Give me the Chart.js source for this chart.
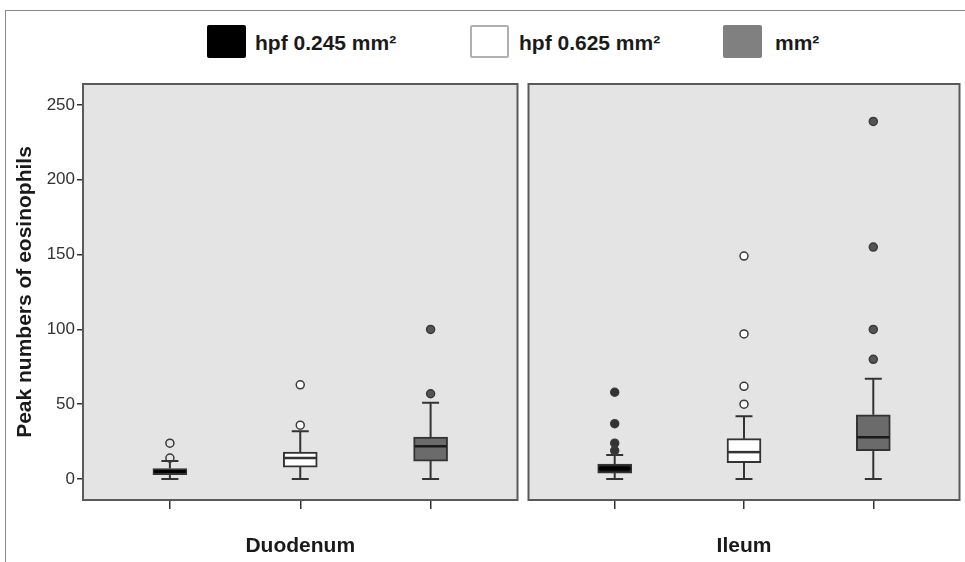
<!DOCTYPE html>
<html lang="en">
<head>
  <meta charset="UTF-8">
  <meta name="viewport" content="width=device-width, initial-scale=1.0">
  <title>Peak numbers of eosinophils</title>
  <script src="https://cdn.jsdelivr.net/npm/chart.js"></script>
  <style>
    body {
      margin: 0;
      background: #fff;
      font-family: "Liberation Sans", Arial, sans-serif;
    }
    #wrap {
      position: relative;
      width: 965px;
      height: 562px;
      overflow: hidden;
    }
    .frame-top {
      position: absolute;
      left: 5px;
      top: 10px;
      width: 960px;
      border-top: 1.5px solid #8a8a8a;
    }
    .frame-left {
      position: absolute;
      left: 5px;
      top: 10px;
      height: 552px;
      border-left: 1.5px solid #8a8a8a;
    }
    .key {
      position: absolute;
      top: 25px;
      width: 39px;
      height: 33px;
      box-sizing: border-box;
      border-radius: 2px;
    }
    .key-label {
      position: absolute;
      top: 30px;
      font-size: 21px;
      font-weight: bold;
      line-height: 26px;
      color: #1a1a1a;
      white-space: nowrap;
    }
    canvas {
      position: absolute;
      top: 0;
    }
  </style>
</head>
<body>
  <div id="wrap">
    <div class="frame-top"></div>
    <div class="frame-left"></div>
    <div id="legend"></div>
    <canvas id="duodenum" width="523" height="562" style="left:0"></canvas>
    <canvas id="ileum" width="442" height="562" style="left:523px"></canvas>
  </div>

  <script>
    // groups (legend / box colours) and the two sites
    const groups = ['hpf 0.245 mm²', 'hpf 0.625 mm²', 'mm²'];
    const sites = ['Duodenum', 'Ileum'];
    const yTicks = [0, 50, 100, 150, 200, 250];

    // Duodenum box statistics, one value per group
    const duoMin = [0, 0, 0];
    const duoQ1 = [3, 8, 12];
    const duoMedian = [5, 14, 22];
    const duoQ3 = [7, 18, 28];
    const duoMax = [12, 32, 51];
    const duoOutliers = [[14, 24], [36, 63], [57, 100]];

    // Ileum box statistics
    const ileMin = [0, 0, 0];
    const ileQ1 = [4, 11, 19];
    const ileMedian = [7, 18, 28];
    const ileQ3 = [10, 27, 43];
    const ileMax = [16, 42, 67];
    const ileOutliers = [[19, 24, 37, 58], [50, 62, 97, 149], [80, 100, 155, 239]];

    // styles
    const boxFill = ['#0d0d0d', '#ffffff', '#6b6b6b'];
    const legendFill = ['#000000', '#ffffff', '#808080'];
    const medianColor = ['#000000', '#333333', '#1a1a1a'];
    const lineColor = '#333333';
    const panelBg = '#e4e4e4';

    Chart.defaults.font.family = '"Liberation Sans", Arial, sans-serif';
    Chart.defaults.animation = false;

    // html legend along the top
    const keyLeft = [207, 470, 723];
    const labelLeft = [255, 519, 775];
    const legend = document.getElementById('legend');
    groups.forEach((g, i) => {
      const key = document.createElement('div');
      key.className = 'key';
      key.style.left = keyLeft[i] + 'px';
      key.style.background = legendFill[i];
      if (i === 1) key.style.border = '2px solid #b0b0b0';
      legend.appendChild(key);
      const lab = document.createElement('div');
      lab.className = 'key-label';
      lab.style.left = labelLeft[i] + 'px';
      lab.textContent = g;
      legend.appendChild(lab);
    });

    // panel background, border, medians and whiskers
    const boxPlugin = {
      id: 'boxWhiskers',
      beforeDatasetsDraw(chart) {
        const a = chart.chartArea;
        const ctx = chart.ctx;
        ctx.save();
        ctx.fillStyle = panelBg;
        ctx.fillRect(a.left, a.top, a.right - a.left, a.bottom - a.top);
        ctx.restore();
      },
      afterDatasetDraw(chart, args) {
        if (args.meta.type !== 'bar') return;
        const ds = chart.data.datasets[args.index];
        const st = ds.stats;
        const xs = chart.scales.x;
        const ys = chart.scales.y;
        const ctx = chart.ctx;
        const half = 17;
        const cap = 8.5;
        ctx.save();
        ds.data.forEach((d, i) => {
          const x = xs.getPixelForValue(d.x);
          const yMin = ys.getPixelForValue(st.min[i]);
          const yQ1 = ys.getPixelForValue(st.q1[i]);
          const yQ3 = ys.getPixelForValue(st.q3[i]);
          const yMax = ys.getPixelForValue(st.max[i]);
          const yMed = ys.getPixelForValue(st.median[i]);
          ctx.strokeStyle = lineColor;
          ctx.lineWidth = 2;
          ctx.beginPath();
          ctx.moveTo(x, yQ3); ctx.lineTo(x, yMax);
          ctx.moveTo(x - cap, yMax); ctx.lineTo(x + cap, yMax);
          ctx.moveTo(x, yQ1); ctx.lineTo(x, yMin);
          ctx.moveTo(x - cap, yMin); ctx.lineTo(x + cap, yMin);
          ctx.stroke();
          ctx.strokeStyle = medianColor[i];
          ctx.lineWidth = 2.5;
          ctx.beginPath();
          ctx.moveTo(x - half + 1, yMed); ctx.lineTo(x + half - 1, yMed);
          ctx.stroke();
        });
        ctx.restore();
      },
      afterDraw(chart) {
        const a = chart.chartArea;
        const ctx = chart.ctx;
        ctx.save();
        ctx.strokeStyle = '#5a5a5a';
        ctx.lineWidth = 2;
        ctx.strokeRect(a.left, a.top, a.right - a.left, a.bottom - a.top);
        ctx.restore();
      }
    };

    function makePanel(canvasId, site, stats, outlierFill, showY) {
      const positions = groups.map((g, i) => i + 1);
      const boxes = groups.map((g, i) => ({ x: positions[i], y: [stats.q1[i], stats.q3[i]] }));
      const points = [];
      const fills = [];
      stats.outliers.forEach((list, i) => {
        list.forEach(v => {
          points.push({ x: positions[i], y: v });
          fills.push(outlierFill[i]);
        });
      });

      return new Chart(document.getElementById(canvasId), {
        type: 'bar',
        data: {
          datasets: [
            {
              type: 'scatter',
              data: points,
              order: 0,
              pointRadius: 4,
              pointHoverRadius: 4,
              pointBorderWidth: 1.5,
              pointBackgroundColor: fills,
              pointBorderColor: '#3a3a3a'
            },
            {
              type: 'bar',
              data: boxes,
              stats: stats,
              order: 1,
              barThickness: 34,
              backgroundColor: boxFill,
              borderColor: lineColor,
              borderWidth: 2,
              borderSkipped: false
            }
          ]
        },
        options: {
          responsive: false,
          layout: { padding: { top: 84, right: 4, bottom: 0, left: showY ? 0 : 4 } },
          plugins: {
            legend: { display: false },
            tooltip: { enabled: false }
          },
          scales: {
            x: {
              type: 'linear',
              offset: false,
              min: 1 / 3,
              max: 11 / 3,
              afterBuildTicks: s => { s.ticks = positions.map(v => ({ value: v })); },
              afterFit: s => { s.height = 62; },
              ticks: { display: false },
              grid: { offset: false, drawOnChartArea: false, drawTicks: true, tickLength: 9, color: lineColor, lineWidth: 1.5 },
              border: { display: false },
              title: {
                display: true,
                text: site,
                color: '#1a1a1a',
                font: { size: 21, weight: 'bold' },
                padding: { top: 0, bottom: 3 }
              }
            },
            y: {
              display: showY,
              min: -14,
              max: 264,
              afterBuildTicks: s => { s.ticks = yTicks.map(v => ({ value: v })); },
              afterFit: s => { s.width = showY ? 83 : 0; },
              ticks: { color: '#333', font: { size: 17 }, padding: 2 },
              grid: { drawOnChartArea: false, drawTicks: true, tickLength: 6, color: lineColor, lineWidth: 1.5 },
              border: { display: false },
              title: {
                display: showY,
                text: 'Peak numbers of eosinophils',
                color: '#1a1a1a',
                font: { size: 21, weight: 'bold' },
                padding: { top: 13, bottom: 0 }
              }
            }
          }
        },
        plugins: [boxPlugin]
      });
    }

    makePanel('duodenum', sites[0], {
      min: duoMin, q1: duoQ1, median: duoMedian, q3: duoQ3, max: duoMax, outliers: duoOutliers
    }, ['rgba(0,0,0,0)', '#ffffff', '#555555'], true);

    makePanel('ileum', sites[1], {
      min: ileMin, q1: ileQ1, median: ileMedian, q3: ileQ3, max: ileMax, outliers: ileOutliers
    }, ['#333333', '#ffffff', '#555555'], false);
  </script>
</body>
</html>
